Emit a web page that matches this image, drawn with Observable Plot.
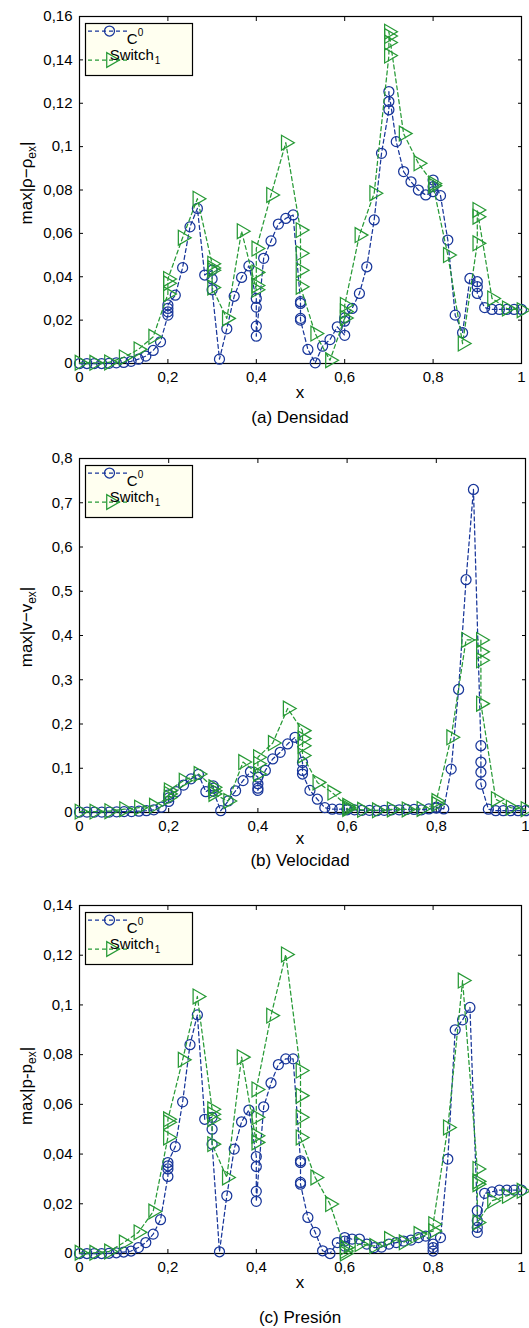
<!DOCTYPE html>
<html><head><meta charset="utf-8">
<script src="https://cdn.jsdelivr.net/npm/d3@7"></script>
<script src="https://cdn.jsdelivr.net/npm/@observablehq/plot@0.6"></script>
<style>
html,body{margin:0;padding:0;background:#fff;overflow:hidden;}
#root{position:relative;width:529px;height:1328px;font-family:"Liberation Sans",Arial,Helvetica,sans-serif;}
.panel{position:absolute;left:0;}
.cap{position:absolute;left:150px;width:300px;text-align:center;font-size:17px;line-height:17px;color:#000;white-space:nowrap;}
</style></head><body><div id="root"></div>
<script>
// ---------- DATA ----------
const xTicks = [0, 0.2, 0.4, 0.6, 0.8, 1];
const densityYTicks = [0, 0.02, 0.04, 0.06, 0.08, 0.1, 0.12, 0.14, 0.16];
const velocityYTicks = [0, 0.1, 0.2, 0.3, 0.4, 0.5, 0.6, 0.7, 0.8];
const pressureYTicks = [0, 0.02, 0.04, 0.06, 0.08, 0.1, 0.12, 0.14];
const seriesNames = ["C0", "Switch1"];

const densityC0 = [
 [0,0],[0.0167,0],[0.0333,0],[0.05,0],[0.0667,0.0001],[0.0833,0.0003],[0.1,0.0005],[0.1167,0.001],[0.1333,0.002],[0.15,0.0034],[0.1667,0.006],[0.1833,0.010],
 [0.2,0.0223],[0.2,0.0238],[0.2,0.0254],[0.2,0.027],
 [0.2167,0.0315],[0.2333,0.0442],[0.25,0.063],[0.2667,0.0715],[0.2833,0.0408],
 [0.3,0.043],[0.3,0.039],[0.3,0.034],
 [0.3167,0.002],[0.3333,0.016],[0.35,0.031],[0.3667,0.0397],[0.3833,0.045],
 [0.4,0.030],[0.4,0.026],[0.4,0.0172],[0.4,0.0126],
 [0.4167,0.0485],[0.4333,0.0565],[0.45,0.0643],[0.4667,0.0669],[0.4833,0.0685],
 [0.5,0.0285],[0.5,0.0277],[0.5,0.0208],[0.5,0.020],
 [0.5167,0.0065],[0.5333,0.0003],[0.55,0.008],[0.5667,0.011],[0.5833,0.0169],
 [0.6,0.013],[0.6,0.0195],[0.6,0.021],
 [0.6167,0.0254],[0.6333,0.0323],[0.65,0.0446],[0.6667,0.0662],[0.6833,0.0969],
 [0.7,0.117],[0.7,0.1208],[0.7,0.1254],
 [0.7167,0.1023],[0.7333,0.0885],[0.75,0.0838],[0.7667,0.080],[0.7833,0.0777],
 [0.8,0.0792],[0.8,0.0815],[0.8,0.0846],
 [0.8167,0.0774],[0.8333,0.0569],[0.85,0.0223],[0.8667,0.0142],[0.8833,0.0392],
 [0.9,0.0377],[0.9,0.0354],[0.9,0.0323],
 [0.9167,0.0258],[0.9333,0.0249],[0.95,0.0249],[0.9667,0.0249],[0.9833,0.0249],[1,0.0249]
];
const densitySwitch = [
 [0,0.0003],[0.0333,0.0003],[0.0667,0.0005],[0.1,0.0028],[0.1333,0.0065],[0.1667,0.0123],
 [0.2,0.032],[0.2,0.037],[0.2,0.039],
 [0.2333,0.058],[0.2667,0.076],
 [0.3,0.046],[0.3,0.044],[0.3,0.043],[0.3,0.035],
 [0.3333,0.0208],[0.3667,0.061],
 [0.4,0.034],[0.4,0.036],[0.4,0.042],[0.4,0.053],
 [0.4333,0.0777],[0.4667,0.1018],
 [0.5,0.0615],[0.5,0.0508],[0.5,0.043],[0.5,0.0354],
 [0.5333,0.0138],[0.5667,0.0015],
 [0.6,0.021],[0.6,0.024],[0.6,0.027],
 [0.6333,0.0592],[0.6667,0.0785],
 [0.7,0.142],[0.7,0.148],[0.7,0.151],[0.7,0.153],
 [0.7333,0.106],[0.7667,0.0923],
 [0.8,0.083],[0.8,0.082],
 [0.8333,0.050],[0.8667,0.0092],
 [0.9,0.0554],[0.9,0.0677],[0.9,0.0708],
 [0.9333,0.030],[0.9667,0.0254],[1,0.0246]
];
const velocityC0 = [
 [0,0.001],[0.0167,0.001],[0.0333,0.001],[0.05,0.001],[0.0667,0.001],[0.0833,0.0015],[0.1,0.002],[0.1167,0.002],[0.1333,0.003],[0.15,0.004],[0.1667,0.006],[0.1833,0.012],
 [0.2,0.025],[0.2,0.033],[0.2,0.04],
 [0.2167,0.047],[0.2333,0.062],[0.25,0.076],[0.2667,0.086],[0.2833,0.047],
 [0.3,0.06],[0.3,0.055],[0.3,0.048],
 [0.3167,0.004],[0.3333,0.026],[0.35,0.049],[0.3667,0.072],[0.3833,0.092],
 [0.4,0.08],[0.4,0.065],[0.4,0.055],[0.4,0.05],
 [0.4167,0.095],[0.4333,0.121],[0.45,0.136],[0.4667,0.155],[0.4833,0.17],
 [0.5,0.113],[0.5,0.095],[0.5,0.087],
 [0.5167,0.05],[0.5333,0.03],[0.55,0.011],[0.5667,0.0075],[0.5833,0.0075],
 [0.6,0.008],[0.6,0.006],
 [0.6167,0.006],[0.6333,0.005],[0.65,0.005],[0.6667,0.004],[0.6833,0.005],
 [0.7,0.006],[0.7167,0.006],[0.7333,0.007],[0.75,0.007],[0.7667,0.006],[0.7833,0.008],
 [0.8,0.01],[0.8,0.012],
 [0.8167,0.008],[0.8333,0.098],[0.85,0.278],[0.8667,0.526],[0.8833,0.73],
 [0.9,0.151],[0.9,0.114],[0.9,0.091],[0.9,0.064],
 [0.9167,0.0075],[0.9333,0.004],[0.95,0.004],[0.9667,0.004],[0.9833,0.004],[1,0.004]
];
const velocitySwitch = [
 [0,0.002],[0.0333,0.002],[0.0667,0.003],[0.1,0.0075],[0.1333,0.011],[0.1667,0.015],
 [0.2,0.034],[0.2,0.042],[0.2,0.05],
 [0.2333,0.072],[0.2667,0.087],
 [0.3,0.057],[0.3,0.049],[0.3,0.042],
 [0.3333,0.026],[0.3667,0.114],
 [0.4,0.087],[0.4,0.11],[0.4,0.125],
 [0.4333,0.157],[0.4667,0.235],
 [0.5,0.185],[0.5,0.167],[0.5,0.151],[0.5,0.129],
 [0.5333,0.068],[0.5667,0.045],
 [0.6,0.015],[0.6,0.011],[0.6,0.008],
 [0.6333,0.006],[0.6667,0.005],[0.7,0.007],[0.7333,0.007],[0.7667,0.008],
 [0.8,0.019],[0.8,0.026],
 [0.8333,0.17],[0.8667,0.39],
 [0.9,0.39],[0.9,0.363],[0.9,0.344],[0.9,0.246],
 [0.9333,0.03],[0.9667,0.011],[1,0.0075]
];
const pressureC0 = [
 [0,0],[0.0167,0],[0.0333,0],[0.05,0],[0.0667,0.0001],[0.0833,0.0003],[0.1,0.0006],[0.1167,0.001],[0.1333,0.0024],[0.15,0.0044],[0.1667,0.0078],[0.1833,0.0136],
 [0.2,0.031],[0.2,0.034],[0.2,0.0353],[0.2,0.0366],
 [0.2167,0.043],[0.2333,0.061],[0.25,0.084],[0.2667,0.096],[0.2833,0.054],
 [0.3,0.0548],[0.3,0.05],[0.3,0.044],
 [0.3167,0.0007],[0.3333,0.0232],[0.35,0.042],[0.3667,0.053],[0.3833,0.0577],
 [0.4,0.039],[0.4,0.035],[0.4,0.025],[0.4,0.021],
 [0.4167,0.059],[0.4333,0.0686],[0.45,0.076],[0.4667,0.0783],[0.4833,0.0783],
 [0.5,0.0373],[0.5,0.0366],[0.5,0.0286],[0.5,0.0279],
 [0.5167,0.0145],[0.5333,0.0085],[0.55,0.0011],[0.5667,0],[0.5833,0.0044],
 [0.6,0.003],[0.6,0.005],[0.6,0.0064],
 [0.6167,0.0058],[0.6333,0.0058],[0.65,0.0038],[0.6667,0.0024],[0.6833,0.0026],
 [0.7,0.0038],[0.7167,0.0044],[0.7333,0.005],[0.75,0.0054],[0.7667,0.0064],[0.7833,0.007],
 [0.8,0.0038],[0.8,0.0024],[0.8,0.001],
 [0.8167,0.0064],[0.8333,0.038],[0.85,0.09],[0.8667,0.094],[0.8833,0.099],
 [0.9,0.0172],[0.9,0.0132],[0.9,0.0105],[0.9,0.0085],
 [0.9167,0.0242],[0.9333,0.0248],[0.95,0.0255],[0.9667,0.0255],[0.9833,0.0255],[1,0.0255]
];
const pressureSwitch = [
 [0,0.0003],[0.0333,0.0003],[0.0667,0.0008],[0.1,0.0044],[0.1333,0.0085],[0.1667,0.0169],
 [0.2,0.0467],[0.2,0.0528],[0.2,0.054],
 [0.2333,0.0779],[0.2667,0.1034],
 [0.3,0.058],[0.3,0.056],[0.3,0.054],[0.3,0.044],
 [0.3333,0.0306],[0.3667,0.079],
 [0.4,0.0447],[0.4,0.0474],[0.4,0.0548],[0.4,0.066],
 [0.4333,0.0957],[0.4667,0.1203],
 [0.5,0.0736],[0.5,0.0635],[0.5,0.0548],[0.5,0.0467],
 [0.5333,0.0306],[0.5667,0.0199],
 [0.6,0.0024],[0.6,0.001],[0.6,0],
 [0.6333,0.0038],[0.6667,0.003],[0.7,0.0058],[0.7333,0.0045],[0.7667,0.0078],
 [0.8,0.009],[0.8,0.0118],
 [0.8333,0.0507],[0.8667,0.1098],
 [0.9,0.034],[0.9,0.029],[0.9,0.0279],[0.9,0.0125],
 [0.9333,0.0212],[0.9667,0.0232],[1,0.0252]
];

// ---------- STYLE ----------
const BLUE = "#18369a";
const GREEN = "#279a36";
const SW = 1.25;
const FONT = "'Liberation Sans', Arial, Helvetica, sans-serif";
const fmt = d => d === 0 ? "0" : String(+(+d).toFixed(3)).replace(".", ",");
const triRight = {
  draw(ctx, size) {
    const y = Math.sqrt(size / (Math.sqrt(3) * 3));
    const s = Math.sqrt(3) * y;
    ctx.moveTo(2 * y, 0);
    ctx.lineTo(-y, -s);
    ctx.lineTo(-y, s);
    ctx.closePath();
  }
};

const root = document.getElementById("root");

function panel(cfg) {
  const c0 = cfg.c0.map(([x, y]) => ({x, y}));
  const sw = cfg.sw.map(([x, y]) => ({x, y}));
  const svg = Plot.plot({
    width: 529, height: cfg.height,
    marginLeft: 79, marginRight: cfg.marginRight, marginTop: 16, marginBottom: 37,
    x: {domain: [0, 1]},
    y: {domain: [0, cfg.yTicks[cfg.yTicks.length - 1]]},
    style: {fontFamily: FONT, fontSize: "15px", color: "#000", background: "transparent", overflow: "visible"},
    marks: [
      Plot.axisY(cfg.yTicks, {anchor: "left", tickSize: 0, tickPadding: 7, tickFormat: fmt, label: null, fontSize: 15}),
      Plot.axisY(cfg.yTicks, {anchor: "left", tickSize: -4, tickFormat: () => "", label: null}),
      Plot.axisY(cfg.yTicks, {anchor: "right", tickSize: -4, tickFormat: () => "", label: null}),
      Plot.axisX(xTicks, {anchor: "bottom", tickSize: 0, tickPadding: 8, tickFormat: fmt, label: null, fontSize: 15}),
      Plot.axisX(xTicks, {anchor: "bottom", tickSize: -4, tickFormat: () => "", label: null}),
      Plot.axisX(xTicks, {anchor: "top", tickSize: -4, tickFormat: () => "", label: null}),
      Plot.frame({stroke: "#000", strokeWidth: 1.2}),
      Plot.line(c0, {x: "x", y: "y", stroke: BLUE, strokeWidth: SW, strokeDasharray: "4,3"}),
      Plot.dot(c0, {x: "x", y: "y", r: 5, stroke: BLUE, fill: "none", strokeWidth: SW}),
      Plot.line(sw, {x: "x", y: "y", stroke: GREEN, strokeWidth: SW, strokeDasharray: "4,3"}),
      Plot.dot(sw, {x: "x", y: "y", r: 5.5, symbol: triRight, stroke: GREEN, fill: "none", strokeWidth: SW})
    ]
  });
  const s = d3.select(svg);
  // y label with subscript
  const yl = s.append("text")
    .attr("transform", `translate(32,${cfg.ylabelY}) rotate(-90)`)
    .attr("text-anchor", "middle").attr("font-size", 17).attr("fill", "#000").attr("font-family", FONT);
  yl.append("tspan").text(cfg.ylabel[0]);
  yl.append("tspan").attr("font-size", 12).attr("dy", 4).text(cfg.ylabel[1]);
  yl.append("tspan").attr("dy", -4).text(cfg.ylabel[2]);
  // x label
  s.append("text").attr("x", 300).attr("y", cfg.xlabelY).attr("text-anchor", "middle")
    .attr("font-size", 17).attr("fill", "#000").attr("font-family", FONT).text("x");
  // legend
  const g = s.append("g").attr("font-family", FONT);
  g.append("rect").attr("x", 85.5).attr("y", 23.5).attr("width", 107).attr("height", 52)
    .attr("fill", "#fffff0").attr("stroke", "#000").attr("stroke-width", 1.2);
  g.append("line").attr("x1", 88).attr("x2", 128).attr("y1", 31).attr("y2", 31)
    .attr("stroke", BLUE).attr("stroke-width", SW).attr("stroke-dasharray", "4,3");
  g.append("circle").attr("cx", 109.5).attr("cy", 31).attr("r", 5).attr("fill", "none")
    .attr("stroke", BLUE).attr("stroke-width", SW);
  g.append("line").attr("x1", 88).attr("x2", 128).attr("y1", 60).attr("y2", 60)
    .attr("stroke", GREEN).attr("stroke-width", SW).attr("stroke-dasharray", "4,3");
  const sz = 5.5 * 5.5 * Math.PI;
  g.append("path").attr("transform", "translate(111,60)")
    .attr("d", d3.symbol(triRight, sz)()).attr("fill", "none").attr("stroke", GREEN).attr("stroke-width", SW);
  const t1 = g.append("text").attr("x", 135).attr("y", 44).attr("font-size", 15).attr("fill", "#000");
  t1.append("tspan").text("C");
  t1.append("tspan").attr("font-size", 10).attr("dy", -8).text("0");
  const t2 = g.append("text").attr("x", 135).attr("y", 60).attr("font-size", 15).attr("fill", "#000");
  t2.append("tspan").text("Switch");
  t2.append("tspan").attr("font-size", 10).attr("dy", 4).attr("dx", 1).text("1");

  const wrap = document.createElement("div");
  wrap.className = "panel";
  wrap.style.top = cfg.top + "px";
  wrap.appendChild(svg);
  root.appendChild(wrap);

  const cap = document.createElement("div");
  cap.className = "cap";
  cap.style.top = cfg.capTop + "px";
  cap.textContent = cfg.caption;
  root.appendChild(cap);
}

panel({top: 0, height: 400, marginRight: 8, yTicks: densityYTicks, c0: densityC0, sw: densitySwitch,
  ylabel: ["max|ρ−ρ", "ex", "|"], ylabelY: 183, xlabelY: 398, caption: "(a) Densidad", capTop: 409});
panel({top: 442, height: 407, marginRight: 4, yTicks: velocityYTicks, c0: velocityC0, sw: velocitySwitch,
  ylabel: ["max|v−v", "ex", "|"], ylabelY: 185, xlabelY: 402, caption: "(b) Velocidad", capTop: 852});
panel({top: 889, height: 401, marginRight: 8, yTicks: pressureYTicks, c0: pressureC0, sw: pressureSwitch,
  ylabel: ["max|p-p", "ex", "|"], ylabelY: 197, xlabelY: 399, caption: "(c) Presión", capTop: 1309});
</script></body></html>
